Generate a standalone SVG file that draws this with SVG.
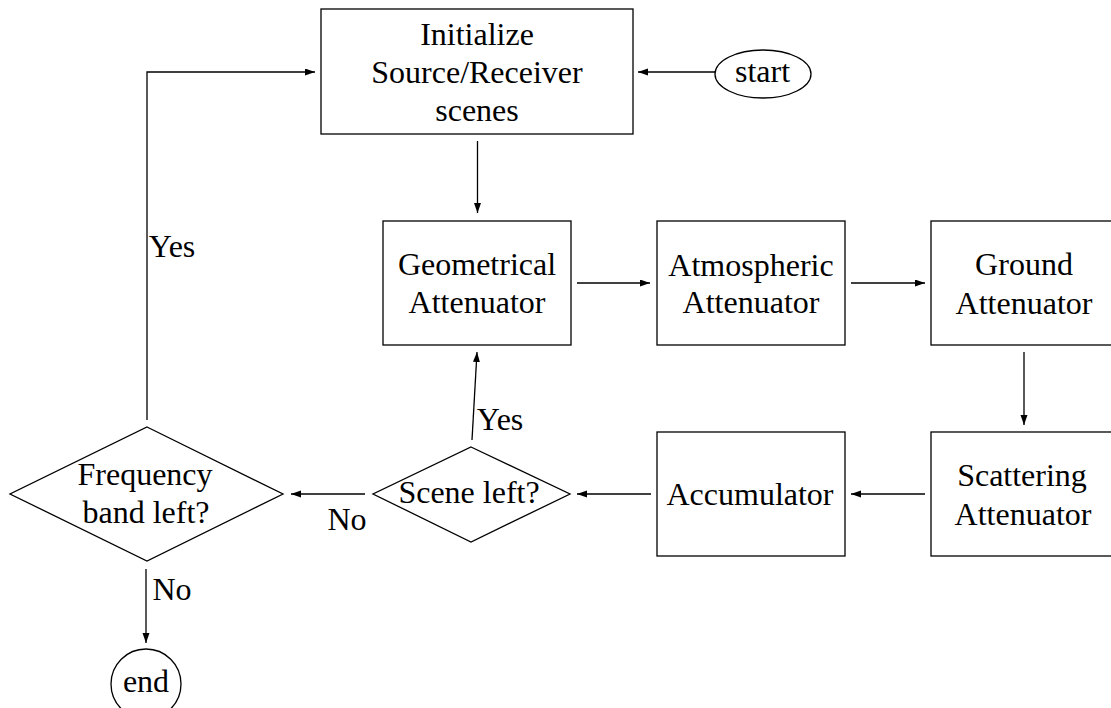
<svg xmlns="http://www.w3.org/2000/svg" width="1111" height="708" viewBox="0 0 1111 708">
<style>
.box{fill:#fff;stroke:#000;stroke-width:1.3}
.lbl{font-family:'Liberation Serif','Times New Roman','DejaVu Serif',serif;font-size:32px;fill:#000;text-anchor:middle}
.edge{fill:none;stroke:#000;stroke-width:1.3;marker-end:url(#arr)}
</style>
<defs>
<marker id="arr" markerUnits="userSpaceOnUse" markerWidth="10" markerHeight="8" refX="10" refY="3.5" orient="auto">
<path d="M0,0 L10,3.5 L0,7 z" fill="#000"/>
</marker>
</defs>
<rect width="1111" height="708" fill="#fff"/>
<g id="connectors">
<line class="edge" x1="715" y1="72" x2="638" y2="72"/>
<polyline class="edge" points="147,420 147,72 315,72"/>
<line class="edge" x1="477.5" y1="141" x2="477.5" y2="213"/>
<line class="edge" x1="577" y1="283" x2="650" y2="283"/>
<line class="edge" x1="851" y1="283" x2="925" y2="283"/>
<line class="edge" x1="1024" y1="352" x2="1024" y2="425"/>
<line class="edge" x1="925" y1="494" x2="851" y2="494"/>
<line class="edge" x1="651" y1="494" x2="577" y2="494"/>
<line class="edge" x1="365" y1="494" x2="291" y2="494"/>
<line class="edge" x1="472" y1="440" x2="477" y2="352"/>
<line class="edge" x1="146" y1="569" x2="146" y2="643"/>
<text class="lbl" x="500" y="430">Yes</text>
<text class="lbl" x="347" y="530">No</text>
<text class="lbl" x="172" y="600">No</text>
<text class="lbl" x="172" y="257">Yes</text>
</g>
<g id="init">
<rect class="box" x="321" y="9" width="312" height="125"/>
<text class="lbl" x="477" y="45">Initialize</text>
<text class="lbl" x="477" y="83">Source/Receiver</text>
<text class="lbl" x="477" y="121">scenes</text>
</g>
<g id="start">
<ellipse class="box" cx="763" cy="74" rx="48" ry="24"/>
<text class="lbl" x="762.5" y="82">start</text>
</g>
<g id="geometrical">
<rect class="box" x="383" y="221" width="188" height="124"/>
<text class="lbl" x="477" y="275">Geometrical</text>
<text class="lbl" x="477" y="313">Attenuator</text>
</g>
<g id="atmospheric">
<rect class="box" x="657" y="221" width="188" height="124"/>
<text class="lbl" x="751" y="276">Atmospheric</text>
<text class="lbl" x="751" y="313">Attenuator</text>
</g>
<g id="ground">
<rect class="box" x="931" y="221" width="188" height="124"/>
<text class="lbl" x="1024" y="275">Ground</text>
<text class="lbl" x="1024" y="314">Attenuator</text>
</g>
<g id="scattering">
<rect class="box" x="931" y="432" width="188" height="124"/>
<text class="lbl" x="1022" y="486">Scattering</text>
<text class="lbl" x="1023" y="525">Attenuator</text>
</g>
<g id="accumulator">
<rect class="box" x="657" y="432" width="188" height="124"/>
<text class="lbl" x="750" y="505">Accumulator</text>
</g>
<g id="scene-left">
<polygon class="box" points="471,447 570,494 471,542 373,494"/>
<text class="lbl" x="469" y="503">Scene left?</text>
</g>
<g id="frequency">
<polygon class="box" points="147,427 283,494 147,561 10,494"/>
<text class="lbl" x="145" y="485">Frequency</text>
<text class="lbl" x="146" y="523">band left?</text>
</g>
<g id="end">
<ellipse class="box" cx="146" cy="684" rx="35" ry="35"/>
<text class="lbl" x="146" y="692">end</text>
</g>
</svg>
